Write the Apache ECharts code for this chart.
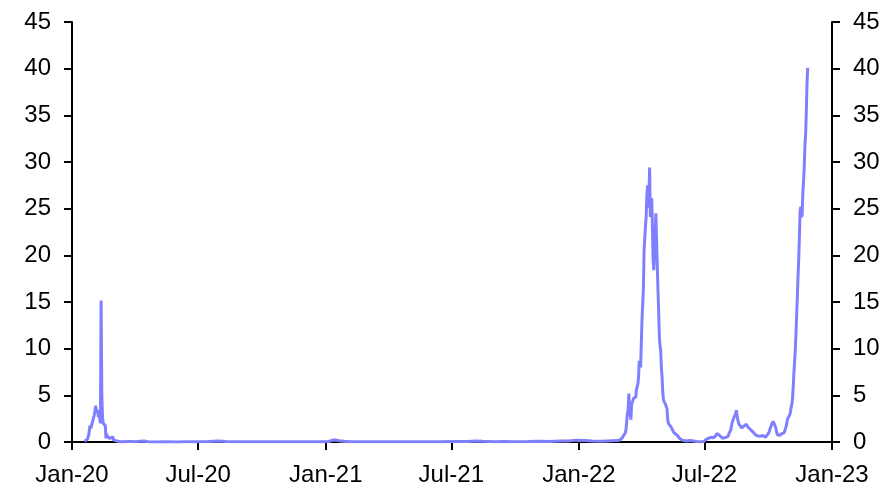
<!DOCTYPE html>
<html>
<head>
<meta charset="utf-8">
<script src="https://cdn.jsdelivr.net/npm/echarts@6/dist/echarts.min.js"></script>
<style>
  html, body { margin: 0; padding: 0; background: #fff; }
  #chart { width: 885px; height: 489px; }
</style>
</head>
<body>
<div id="chart"></div>
<script>
var dates2020 = [
  "2020-01-19", "2020-01-21", "2020-01-23", "2020-01-24", "2020-01-25", "2020-01-26",
  "2020-01-27", "2020-01-28", "2020-01-29", "2020-01-30", "2020-01-31", "2020-02-01",
  "2020-02-02", "2020-02-03", "2020-02-04", "2020-02-05", "2020-02-06", "2020-02-07",
  "2020-02-08", "2020-02-09", "2020-02-10", "2020-02-11", "2020-02-12", "2020-02-13",
  "2020-02-14", "2020-02-15", "2020-02-16", "2020-02-17", "2020-02-18", "2020-02-19",
  "2020-02-20", "2020-02-21", "2020-02-22", "2020-02-23", "2020-02-24", "2020-02-25",
  "2020-02-26", "2020-02-27", "2020-02-28", "2020-02-29", "2020-03-01", "2020-03-03",
  "2020-03-06", "2020-03-10", "2020-03-16", "2020-03-22", "2020-03-27", "2020-04-02",
  "2020-04-08", "2020-04-14", "2020-04-20", "2020-05-01", "2020-05-15", "2020-06-01",
  "2020-06-14", "2020-06-28", "2020-07-12", "2020-07-22", "2020-07-30", "2020-08-10",
  "2020-08-25", "2020-09-10", "2020-09-28", "2020-10-15", "2020-11-01", "2020-11-20",
  "2020-12-05", "2020-12-20"
];
var cases2020 = [
  0.08, 0.15, 0.26, 0.44, 0.69, 0.77,
  1.77, 1.46, 1.74, 1.98, 2.10, 2.59,
  2.83, 3.24, 3.89, 3.69, 3.14, 3.40,
  2.66, 3.06, 2.48, 2.02, 15.15, 5.09,
  2.64, 2.01, 2.05, 1.89, 1.75, 0.39,
  0.89, 0.40, 0.65, 0.41, 0.51, 0.41,
  0.43, 0.33, 0.43, 0.57, 0.20, 0.12,
  0.10, 0.03, 0.02, 0.05, 0.06, 0.04,
  0.07, 0.10, 0.02, 0.01, 0.02, 0.01,
  0.04, 0.02, 0.03, 0.08, 0.11, 0.06,
  0.02, 0.02, 0.03, 0.02, 0.02, 0.03,
  0.02, 0.03
];

var dates2021 = [
  "2021-01-05", "2021-01-10", "2021-01-15", "2021-01-20", "2021-01-27", "2021-02-05",
  "2021-02-20", "2021-03-10", "2021-04-01", "2021-04-20", "2021-05-10", "2021-05-30",
  "2021-06-15", "2021-07-05", "2021-07-25", "2021-08-05", "2021-08-15", "2021-09-01",
  "2021-09-15", "2021-10-01", "2021-10-20", "2021-11-05", "2021-11-20", "2021-12-05",
  "2021-12-18", "2021-12-28"
];
var cases2021 = [
  0.05, 0.18, 0.22, 0.14, 0.08, 0.03,
  0.02, 0.02, 0.03, 0.02, 0.03, 0.04,
  0.03, 0.05, 0.06, 0.12, 0.08, 0.04,
  0.06, 0.04, 0.06, 0.09, 0.05, 0.10,
  0.12, 0.20
];

var dates2022 = [
  "2022-01-10", "2022-01-20", "2022-02-01", "2022-02-12", "2022-02-22", "2022-03-01",
  "2022-03-05", "2022-03-07", "2022-03-09", "2022-03-10", "2022-03-11", "2022-03-12",
  "2022-03-13", "2022-03-14", "2022-03-15", "2022-03-16", "2022-03-17", "2022-03-18",
  "2022-03-19", "2022-03-20", "2022-03-21", "2022-03-22", "2022-03-23", "2022-03-24",
  "2022-03-25", "2022-03-26", "2022-03-27", "2022-03-28", "2022-03-29", "2022-03-30",
  "2022-03-31", "2022-04-01", "2022-04-02", "2022-04-03", "2022-04-04", "2022-04-05",
  "2022-04-06", "2022-04-07", "2022-04-08", "2022-04-09", "2022-04-10", "2022-04-11",
  "2022-04-12", "2022-04-13", "2022-04-14", "2022-04-15", "2022-04-16", "2022-04-17",
  "2022-04-18", "2022-04-19", "2022-04-20", "2022-04-21", "2022-04-22", "2022-04-23",
  "2022-04-24", "2022-04-25", "2022-04-26", "2022-04-27", "2022-04-28", "2022-04-29",
  "2022-04-30", "2022-05-01", "2022-05-02", "2022-05-03", "2022-05-04", "2022-05-05",
  "2022-05-06", "2022-05-07", "2022-05-08", "2022-05-09", "2022-05-10", "2022-05-12",
  "2022-05-14", "2022-05-16", "2022-05-18", "2022-05-20", "2022-05-23", "2022-05-26",
  "2022-05-30", "2022-06-05", "2022-06-10", "2022-06-15", "2022-06-20", "2022-06-25",
  "2022-06-30", "2022-07-04", "2022-07-07", "2022-07-10", "2022-07-13", "2022-07-16",
  "2022-07-19", "2022-07-23", "2022-07-27", "2022-08-01", "2022-08-04", "2022-08-06",
  "2022-08-08", "2022-08-10", "2022-08-13", "2022-08-15", "2022-08-16", "2022-08-18",
  "2022-08-20", "2022-08-22", "2022-08-24", "2022-08-27", "2022-08-30", "2022-09-03",
  "2022-09-06", "2022-09-08", "2022-09-11", "2022-09-14", "2022-09-16", "2022-09-19",
  "2022-09-21", "2022-09-23", "2022-09-25", "2022-09-27", "2022-09-29", "2022-10-02",
  "2022-10-05", "2022-10-08", "2022-10-10", "2022-10-12", "2022-10-14", "2022-10-17",
  "2022-10-21", "2022-10-24", "2022-10-27", "2022-10-29", "2022-10-31", "2022-11-01",
  "2022-11-02", "2022-11-03", "2022-11-04", "2022-11-05", "2022-11-06", "2022-11-07",
  "2022-11-08", "2022-11-09", "2022-11-10", "2022-11-11", "2022-11-12", "2022-11-13",
  "2022-11-14", "2022-11-15", "2022-11-16", "2022-11-17", "2022-11-18", "2022-11-19",
  "2022-11-20", "2022-11-21", "2022-11-22", "2022-11-23", "2022-11-24", "2022-11-25",
  "2022-11-26", "2022-11-27"
];
var cases2022 = [
  0.15, 0.10, 0.08, 0.12, 0.15, 0.20,
  0.50, 0.70, 1.00, 1.40, 1.60, 3.10,
  3.40, 5.20, 3.60, 3.00, 2.40, 4.00,
  4.00, 4.00, 4.70, 4.80, 4.80, 4.80,
  5.60, 5.60, 6.20, 6.90, 8.70, 8.60,
  8.00, 8.00, 13.10, 13.30, 16.40, 20.50,
  20.70, 23.10, 24.10, 26.40, 27.50, 25.10,
  26.40, 29.40, 24.10, 25.50, 26.10, 23.20,
  19.60, 18.40, 20.60, 22.00, 24.50, 21.60,
  19.00, 16.40, 14.10, 11.30, 10.30, 9.80,
  7.90, 6.90, 5.30, 4.50, 4.50, 4.40,
  4.00, 3.90, 3.60, 2.50, 2.00, 2.20,
  1.60, 1.30, 1.00, 0.90, 0.70, 0.40,
  0.20, 0.10, 0.15, 0.10, 0.05, 0.04,
  0.05, 0.30, 0.40, 0.50, 0.45, 0.55,
  0.90, 0.70, 0.40, 0.50, 0.60, 1.00,
  1.30, 2.10, 2.70, 3.00, 3.40, 2.40,
  1.90, 1.70, 1.50, 1.70, 1.90, 1.50,
  1.30, 1.10, 0.90, 0.70, 0.50, 0.60,
  0.80, 0.70, 0.60, 0.50, 0.50, 1.00,
  1.70, 2.20, 1.90, 1.50, 0.80, 0.70,
  0.90, 1.00, 1.70, 2.50, 2.70, 2.90,
  3.20, 3.70, 4.00, 4.60, 5.80, 7.30,
  8.50, 9.80, 11.50, 13.50, 15.50, 17.80,
  19.50, 22.00, 24.80, 25.20, 24.10, 24.40,
  26.80, 28.00, 29.50, 31.80, 33.00, 35.50,
  38.50, 40.10
];

var tickDates = ["2020-01-01", "2020-07-01", "2021-01-01", "2021-07-01", "2022-01-01", "2022-07-01", "2023-01-01"];
var tickLabels = ["Jan-20", "Jul-20", "Jan-21", "Jul-21", "Jan-22", "Jul-22", "Jan-23"];

function toTime(d) {
  return Date.parse(d + "T00:00:00Z");
}

var allDates = dates2020.concat(dates2021, dates2022);
var allCases = cases2020.concat(cases2021, cases2022);
var seriesData = allDates.map(function (d, i) {
  return [toTime(d), allCases[i]];
});
var tickTimes = tickDates.map(toTime);

var font = "'Liberation Sans', Arial, sans-serif";
var axisLine = { show: true, onZero: false, lineStyle: { color: "#000", width: 2 } };
var axisTick = { show: true, inside: false, length: 8, lineStyle: { color: "#000", width: 2 } };

function yAxis(pos) {
  return {
    type: "value",
    position: pos,
    min: 0,
    max: 45,
    interval: 5,
    axisLine: axisLine,
    axisTick: axisTick,
    splitLine: { show: false },
    axisLabel: { color: "#000", fontFamily: font, fontSize: 24, margin: 21 },
  };
}

var chart = echarts.init(document.getElementById("chart"));
chart.setOption({
  animation: false,
  grid: { left: 72, right: 53, top: 22, bottom: 47 },
  xAxis: {
    type: "value",
    min: tickTimes[0],
    max: tickTimes[tickTimes.length - 1],
    axisLine: axisLine,
    axisTick: {
      show: true,
      length: 8,
      lineStyle: { color: "#000", width: 2 },
      customValues: tickTimes,
    },
    splitLine: { show: false },
    axisLabel: {
      color: "#000",
      fontFamily: font,
      fontSize: 24,
      margin: 21,
      customValues: tickTimes,
      formatter: function (v) {
        var i = tickTimes.indexOf(v);
        return i >= 0 ? tickLabels[i] : "";
      },
    },
  },
  yAxis: [yAxis("left"), yAxis("right")],
  series: [
    {
      type: "line",
      data: seriesData,
      showSymbol: false,
      symbol: "none",
      lineStyle: { color: "#7f7fff", width: 3 },
      itemStyle: { color: "#7f7fff" },
    },
  ],
});
</script>
</body>
</html>
